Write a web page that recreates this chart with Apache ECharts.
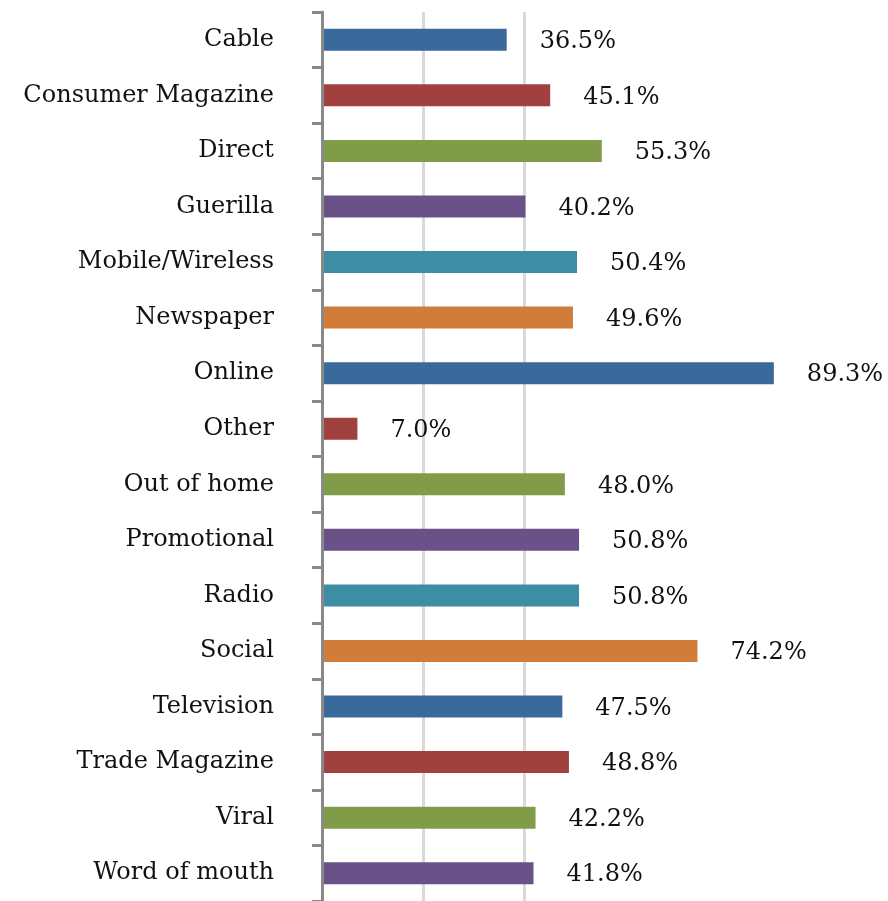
<!DOCTYPE html>
<html>
<head>
<meta charset="utf-8">
<script src="https://cdn.jsdelivr.net/npm/echarts@6/dist/echarts.min.js"></script>
<style>html,body{margin:0;padding:0;background:#fff;}#c{width:888px;height:901px;}</style>
</head>
<body>
<div id="c"></div>
<script>
var categories = ['Cable','Consumer Magazine','Direct','Guerilla','Mobile/Wireless','Newspaper','Online','Other','Out of home','Promotional','Radio','Social','Television','Trade Magazine','Viral','Word of mouth'];
var values = [36.5,45.1,55.3,40.2,50.4,49.6,89.3,7.0,48.0,50.8,50.8,74.2,47.5,48.8,42.2,41.8];
var palette = ['#3A6A9C','#A0413F','#809C48','#6A5289','#3D8EA5','#D17D39'];
var gridValues = [20,40];

var chart = echarts.init(document.getElementById('c'));
var FONT = '"DejaVu Serif", "Liberation Serif", serif';
chart.setOption({
  animation: false,
  grid: {left: 322, top: 12, width: 506, bottom: -3, containLabel: false},
  xAxis: {
    type: 'value', min: 0, max: 100, interval: 20,
    show: true,
    axisLine: {show: false}, axisTick: {show: false}, axisLabel: {show: false},
    splitLine: {show: false}
  },
  yAxis: {
    type: 'category', data: categories, inverse: true,
    z: 4,
    axisLine: {show: true, lineStyle: {color: '#898989', width: 3}},
    axisTick: {show: true, length: 10, lineStyle: {color: '#898989', width: 3}},
    axisLabel: {margin: 48, fontFamily: FONT, fontSize: 24, color: '#111', padding: [4, 0, 0, 0]},
    splitLine: {show: false}
  },
  series: [{
    type: 'bar',
    data: values.map(function (v, i) { return {value: v, itemStyle: {color: palette[i % palette.length]}}; }),
    barWidth: 22,
    z: 3,
    label: {
      show: true, position: 'right', distance: 33, offset: [0, 2],
      fontFamily: FONT, fontSize: 24, color: '#111',
      formatter: function (p) { return p.value.toFixed(1) + '%'; }
    },
    markLine: {
      silent: true, symbol: 'none', z: 1,
      label: {show: false},
      lineStyle: {color: '#d9d9d9', width: 3, type: 'solid'},
      data: gridValues.map(function (g) { return {xAxis: g}; })
    }
  }]
});
</script>
</body>
</html>
